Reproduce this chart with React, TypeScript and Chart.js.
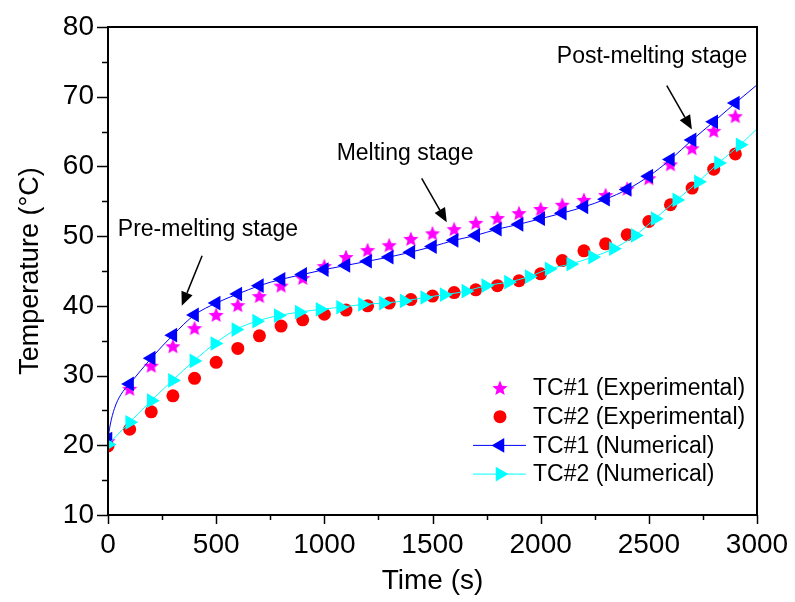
import { useEffect, useRef } from 'react';
import { Chart, registerables } from 'chart.js';

Chart.register(...registerables);

// ---------- data ----------
const expTime = [0, 100, 200, 300, 400, 500, 600, 700, 800, 900, 1000, 1100, 1200, 1300, 1400, 1500, 1600, 1700, 1800, 1900, 2000, 2100, 2200, 2300, 2400, 2500, 2600, 2700, 2800, 2900];
const tc1Exp = [20.6, 28.1, 31.4, 34.2, 36.8, 38.7, 40.1, 41.4, 42.9, 44.0, 45.7, 47.0, 48.0, 48.7, 49.6, 50.4, 51.0, 51.9, 52.6, 53.3, 53.9, 54.5, 55.2, 55.9, 56.8, 58.3, 60.3, 62.6, 65.1, 67.2];
const tc2Exp = [19.9, 22.3, 24.8, 27.1, 29.6, 31.9, 33.9, 35.7, 37.1, 38.0, 38.8, 39.4, 40.0, 40.4, 40.9, 41.4, 41.9, 42.3, 42.9, 43.6, 44.6, 46.5, 47.9, 48.9, 50.2, 52.1, 54.5, 56.9, 59.6, 61.8];

const tc1NumTime = [0, 10, 30, 60, 100, 200, 300, 400, 500, 600, 700, 800, 900, 1000, 1100, 1200, 1300, 1400, 1500, 1600, 1700, 1800, 1900, 2000, 2100, 2200, 2300, 2400, 2500, 2600, 2700, 2800, 2900, 3000];
const tc1Num = [20.9, 22.9, 25.3, 27.3, 28.8, 32.5, 35.8, 38.7, 40.4, 41.7, 42.9, 43.8, 44.5, 45.2, 45.8, 46.4, 47.0, 47.7, 48.5, 49.4, 50.1, 51.0, 51.7, 52.5, 53.3, 54.2, 55.3, 56.7, 58.6, 61.0, 63.8, 66.4, 69.1, 71.7];
const tc1NumLineOnly = [10, 30, 60, 3000];

const tc2NumTime = [0, 100, 200, 298, 397, 494, 591, 687, 787, 884, 980, 1075, 1176, 1273, 1369, 1464, 1554, 1654, 1746, 1851, 1947, 2039, 2139, 2240, 2336, 2437, 2529, 2629, 2729, 2822, 2922, 3000];
const tc2Num = [20.1, 23.3, 26.4, 29.3, 32.1, 34.6, 36.6, 37.8, 38.6, 39.1, 39.5, 39.8, 40.2, 40.4, 40.7, 41.2, 41.6, 42.1, 42.9, 43.4, 44.2, 45.3, 46.0, 47.0, 48.2, 50.1, 52.5, 55.2, 57.8, 60.5, 63.1, 65.4];
const tc2NumLineOnly = [3000];

const seriesLabels = ['TC#1 (Experimental)', 'TC#2 (Experimental)', 'TC#1 (Numerical)', 'TC#2 (Numerical)'];

const xMin = 0, xMax = 3000, xMajor = 500, xMinor = 250;
const yMin = 10, yMax = 80, yMajor = 10, yMinor = 5;

const annotations = [
  { text: 'Pre-melting stage', tx: 462, ty: 51.0, x1: 435, y1: 47.2, x2: 341, y2: 40.0 },
  { text: 'Melting stage', tx: 1373, ty: 61.9, x1: 1450, y1: 58.3, x2: 1566, y2: 52.0 },
  { text: 'Post-melting stage', tx: 2515, ty: 75.7, x1: 2583, y1: 71.6, x2: 2699, y2: 65.3 },
];

const FONT = "'Liberation Sans', Arial, Helvetica, sans-serif";
const MAGENTA = '#FF00FF';
const RED = '#FF0000';
const BLUE = '#0000FF';
const CYAN = '#00FFFF';

function makeStar(size: number, color: string) {
  const c = document.createElement('canvas');
  c.width = size;
  c.height = size;
  const g = c.getContext('2d')!;
  const cx = size / 2, cy = size / 2 + 0.6, R = size / 2, r = R * 0.45;
  g.beginPath();
  for (let i = 0; i < 10; i++) {
    const ang = -Math.PI / 2 + (i * Math.PI) / 5;
    const rad = i % 2 === 0 ? R : r;
    g.lineTo(cx + rad * Math.cos(ang), cy + rad * Math.sin(ang));
  }
  g.closePath();
  g.fillStyle = color;
  g.fill();
  return c;
}

export default function App() {
  const ref = useRef<HTMLCanvasElement | null>(null);

  useEffect(() => {
    if (!ref.current) return;
    const star = makeStar(16, MAGENTA);
    const triR = 8.5;

    const framePlugin = {
      id: 'frameTicksLegend',
      afterDraw(chart: any) {
        const { ctx, chartArea: a, scales } = chart;
        const xs = scales.x, ys = scales.y;
        ctx.save();
        // frame
        ctx.strokeStyle = '#000';
        ctx.lineWidth = 2;
        ctx.strokeRect(a.left, a.top, a.right - a.left, a.bottom - a.top);
        // ticks (major + minor)
        ctx.lineWidth = 1.5;
        for (let v = xMin; v <= xMax; v += xMinor) {
          const px = Math.round(xs.getPixelForValue(v)) + 0.5;
          const len = v % xMajor === 0 ? 9 : 5;
          ctx.beginPath();
          ctx.moveTo(px, a.bottom);
          ctx.lineTo(px, a.bottom + len);
          ctx.stroke();
        }
        for (let v = yMin; v <= yMax; v += yMinor) {
          const py = Math.round(ys.getPixelForValue(v)) + 0.5;
          const len = v % yMajor === 0 ? 11 : 6;
          ctx.beginPath();
          ctx.moveTo(a.left, py);
          ctx.lineTo(a.left - len, py);
          ctx.stroke();
        }

        // annotations
        ctx.fillStyle = '#000';
        ctx.font = `23px ${FONT}`;
        ctx.textAlign = 'center';
        ctx.textBaseline = 'middle';
        for (const an of annotations) {
          ctx.fillText(an.text, xs.getPixelForValue(an.tx), ys.getPixelForValue(an.ty));
          const sx = xs.getPixelForValue(an.x1), sy = ys.getPixelForValue(an.y1);
          const ex = xs.getPixelForValue(an.x2), ey = ys.getPixelForValue(an.y2);
          const ang = Math.atan2(ey - sy, ex - sx);
          const hl = 14, hw = 6;
          const bx = ex - hl * Math.cos(ang), by = ey - hl * Math.sin(ang);
          ctx.lineWidth = 1.5;
          ctx.beginPath();
          ctx.moveTo(sx, sy);
          ctx.lineTo(bx, by);
          ctx.stroke();
          ctx.beginPath();
          ctx.moveTo(ex, ey);
          ctx.lineTo(bx + hw * Math.sin(ang), by - hw * Math.cos(ang));
          ctx.lineTo(bx - hw * Math.sin(ang), by + hw * Math.cos(ang));
          ctx.closePath();
          ctx.fill();
        }

        // legend
        const lx = a.left + 392;
        const ty0 = a.top + 361;
        const dy = 28.7;
        ctx.font = `23px ${FONT}`;
        ctx.textAlign = 'left';
        ctx.textBaseline = 'middle';
        const textX = a.left + 425;
        ctx.drawImage(star, lx - 8, ty0 - 8, 16, 16);
        ctx.fillStyle = RED;
        ctx.beginPath();
        ctx.arc(lx, ty0 + dy, 6.5, 0, Math.PI * 2);
        ctx.fill();
        const drawTri = (cx: number, cy: number, dir: number, color: string) => {
          const h = 1.5 * triR;
          const half = triR * Math.sqrt(3) / 2;
          ctx.fillStyle = color;
          ctx.beginPath();
          if (dir < 0) {
            ctx.moveTo(cx - h * 2 / 3, cy);
            ctx.lineTo(cx + h / 3, cy - half);
            ctx.lineTo(cx + h / 3, cy + half);
          } else {
            ctx.moveTo(cx + h * 2 / 3, cy);
            ctx.lineTo(cx - h / 3, cy - half);
            ctx.lineTo(cx - h / 3, cy + half);
          }
          ctx.closePath();
          ctx.fill();
        };
        [[BLUE, -1], [CYAN, 1]].forEach(([col, dir], i) => {
          const y = ty0 + dy * (2 + i);
          ctx.strokeStyle = col as string;
          ctx.lineWidth = 1;
          ctx.beginPath();
          ctx.moveTo(lx - 27, y);
          ctx.lineTo(lx + 26, y);
          ctx.stroke();
          drawTri(lx, y, dir as number, col as string);
        });
        ctx.fillStyle = '#000';
        seriesLabels.forEach((s, i) => ctx.fillText(s, textX, ty0 + dy * i + 1));
        ctx.restore();
      },
    };

    const chart = new Chart(ref.current, {
      type: 'scatter',
      data: {
        datasets: [
          {
            label: seriesLabels[0],
            data: expTime.map((t, i) => ({ x: t, y: tc1Exp[i] })),
            pointStyle: star as any,
            pointRadius: 8,
            showLine: false,
            order: 4,
          },
          {
            label: seriesLabels[1],
            data: expTime.map((t, i) => ({ x: t, y: tc2Exp[i] })),
            pointStyle: 'circle',
            pointRadius: 6.5,
            pointBackgroundColor: RED,
            pointBorderWidth: 0,
            borderColor: RED,
            showLine: false,
            order: 3,
          },
          {
            label: seriesLabels[2],
            data: tc1NumTime.map((t, i) => ({ x: t, y: tc1Num[i] })),
            showLine: true,
            borderColor: BLUE,
            borderWidth: 1,
            pointStyle: 'triangle',
            pointRotation: -90,
            pointBackgroundColor: BLUE,
            pointBorderColor: BLUE,
            pointBorderWidth: 0,
            pointRadius: (c: any) => (tc1NumLineOnly.includes(tc1NumTime[c.dataIndex]) ? 0 : triR),
            cubicInterpolationMode: 'monotone',
            tension: 0.4,
            order: 2,
          },
          {
            label: seriesLabels[3],
            data: tc2NumTime.map((t, i) => ({ x: t, y: tc2Num[i] })),
            showLine: true,
            borderColor: CYAN,
            borderWidth: 1,
            pointStyle: 'triangle',
            pointRotation: 90,
            pointBackgroundColor: CYAN,
            pointBorderColor: CYAN,
            pointBorderWidth: 0,
            pointRadius: (c: any) => (tc2NumLineOnly.includes(tc2NumTime[c.dataIndex]) ? 0 : triR),
            cubicInterpolationMode: 'monotone',
            tension: 0.4,
            order: 1,
          },
        ] as any,
      },
      options: {
        responsive: false,
        animation: false,
        devicePixelRatio: 1,
        layout: { padding: { top: 27, right: 38, left: 0, bottom: 0 } },
        plugins: { legend: { display: false }, tooltip: { enabled: false } },
        scales: {
          x: {
            type: 'linear',
            min: xMin,
            max: xMax,
            ticks: {
              stepSize: xMajor,
              color: '#000',
              font: { size: 28, family: FONT },
              padding: 13,
              maxRotation: 0,
              callback: (v: any) => String(v),
            },
            grid: { display: false, drawTicks: false },
            border: { display: false },
            title: { display: true, text: 'Time (s)', color: '#000', font: { size: 28, family: FONT }, padding: { top: 4, bottom: 4 } },
            afterFit: (s: any) => { s.height = 87; s.paddingLeft = 0; s.paddingRight = 0; },
          },
          y: {
            type: 'linear',
            min: yMin,
            max: yMax,
            ticks: { stepSize: yMajor, color: '#000', font: { size: 28, family: FONT }, padding: 14, callback: (v: any) => String(v) },
            grid: { display: false, drawTicks: false },
            border: { display: false },
            title: { display: true, text: 'Temperature (°C)', color: '#000', font: { size: 27, family: FONT }, padding: { top: 14, bottom: 4 } },
            afterFit: (s: any) => { s.width = 108; s.paddingTop = 0; s.paddingBottom = 0; },
          },
        },
      } as any,
      plugins: [framePlugin],
    });
    return () => chart.destroy();
  }, []);

  return (
    <div style={{ position: 'fixed', left: 0, top: 0, width: 795, height: 602, background: '#fff' }}>
      <canvas ref={ref} width={795} height={602} style={{ width: 795, height: 602, display: 'block' }} />
    </div>
  );
}
